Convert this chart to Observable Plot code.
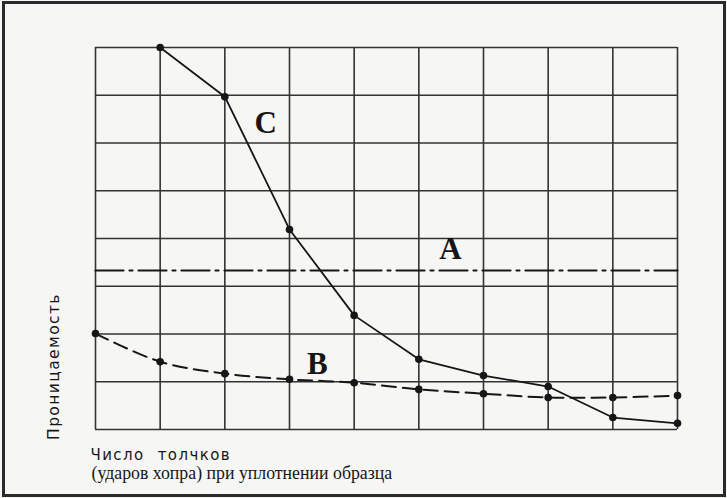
<!DOCTYPE html>
<html>
<head>
<meta charset="utf-8">
<script src="https://cdn.jsdelivr.net/npm/d3@7"></script>
<script src="https://cdn.jsdelivr.net/npm/@observablehq/plot@0.6"></script>
<style>
  html, body { margin: 0; padding: 0; background: #f6f6f4; }
  #wrap { position: relative; width: 727px; height: 498px; overflow: hidden; }
  #border { position: absolute; left: 2px; top: 1px; width: 718px; height: 490px;
            border: 3px solid #2a2a2a; pointer-events: none; }
</style>
</head>
<body>
<div id="wrap"><div id="border"></div></div>
<script>
// Число толчков (index of gridline column)
const xTicks = [0, 1, 2, 3, 4, 5, 6, 7, 8, 9];
const yTicks = [0, 1, 2, 3, 4, 5, 6, 7, 8];

// Curve C (solid)
const cX = [1, 2, 3, 4, 5, 6, 7, 8, 9];
const cY = [8.0, 6.97, 4.19, 2.39, 1.47, 1.13, 0.90, 0.25, 0.13];

// Curve B (dashed)
const bX = [0, 1, 2, 3, 4, 5, 6, 7, 8, 9];
const bY = [2.01, 1.42, 1.17, 1.05, 0.98, 0.84, 0.75, 0.67, 0.67, 0.71];

// Line A (dash-dot, constant)
const aX = [0, 9];
const aY = [3.33, 3.33];

const curveLabels = ["C", "A", "B"];
const curveLabelX = [2.63, 5.49, 3.43];
const curveLabelY = [6.41, 3.77, 1.38];

const yLabel = "Проницаемость";
const xLabel1 = "Число толчков";
const xLabel2 = "(ударов хопра) при уплотнении образца";

const C = cX.map((x, i) => ({x, y: cY[i]}));
const B = bX.map((x, i) => ({x, y: bY[i]}));
const A = aX.map((x, i) => ({x, y: aY[i]}));
const L = curveLabels.map((t, i) => ({t, x: curveLabelX[i], y: curveLabelY[i]}));

const ink = "#161616";
const grid = "#333333";

const chart = Plot.plot({
  width: 727,
  height: 498,
  marginLeft: 95,
  marginRight: 50,
  marginTop: 47,
  marginBottom: 69,
  x: {domain: [0, 9], axis: null},
  y: {domain: [0, 8], axis: null},
  style: {background: "transparent"},
  marks: [
    Plot.ruleX(xTicks, {x: d => d, y1: 0, y2: 8, stroke: grid, strokeWidth: 1.6}),
    Plot.ruleY(yTicks, {y: d => d, x1: 0, x2: 9, stroke: grid, strokeWidth: 1.6}),
    Plot.line(A, {x: "x", y: "y", stroke: ink, strokeWidth: 2.2, strokeDasharray: "28,6,3,6"}),
    Plot.line(B, {x: "x", y: "y", stroke: ink, strokeWidth: 2, strokeDasharray: "14,7", curve: "catmull-rom"}),
    Plot.dot(B, {x: "x", y: "y", r: 3.8, fill: ink}),
    Plot.line(C, {x: "x", y: "y", stroke: ink, strokeWidth: 1.8}),
    Plot.dot(C, {x: "x", y: "y", r: 3.8, fill: ink}),
    Plot.text(L, {x: "x", y: "y", text: "t", fontFamily: "Liberation Serif", fontWeight: "bold", fontSize: 31, fill: ink}),
    Plot.text([yLabel], {frameAnchor: "bottom-left", dx: -37, dy: -63, rotate: -90, textAnchor: "middle",
      fontFamily: "DejaVu Sans", fontSize: 15.5, fill: ink}),
    Plot.text([xLabel1], {frameAnchor: "bottom-left", dx: -5, dy: 30, textAnchor: "start",
      fontFamily: "DejaVu Sans", fontSize: 15, fill: ink}),
    Plot.text([xLabel2], {frameAnchor: "bottom-left", dx: -4, dy: 49, textAnchor: "start",
      fontFamily: "Liberation Serif", fontSize: 17.8, fill: ink})
  ]
});
d3.select(chart).selectAll("text").filter(function() { return this.textContent === yLabel; })
  .attr("letter-spacing", "1.4px");
d3.select(chart).selectAll("text").filter(function() { return this.textContent === xLabel1; })
  .attr("letter-spacing", "1.4px").attr("word-spacing", "7px");
chart.style.position = "absolute";
chart.style.left = "0px";
chart.style.top = "0px";
document.getElementById("wrap").prepend(chart);
</script>
</body>
</html>
